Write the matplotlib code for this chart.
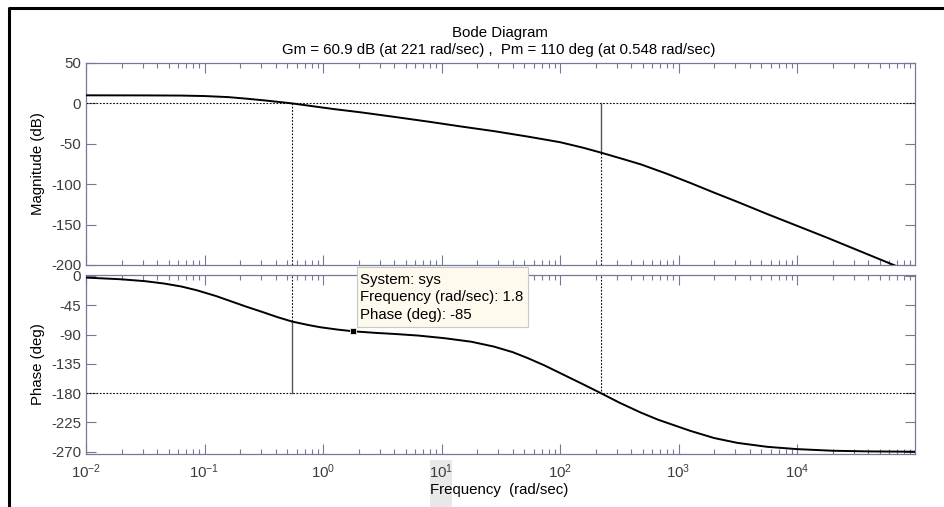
import numpy as np
import matplotlib
matplotlib.use("Agg")
import matplotlib.pyplot as plt
from matplotlib.patches import Rectangle
from matplotlib.lines import Line2D
from matplotlib.ticker import LogLocator, NullFormatter, FixedLocator

plt.rcParams['font.family'] = ['Liberation Sans', 'DejaVu Sans']
plt.rcParams['axes.unicode_minus'] = False
plt.rcParams['mathtext.default'] = 'regular'

# values
mag_freq = [0.01, 0.0316, 0.0631, 0.1, 0.158, 0.228, 0.316, 0.437, 0.548, 0.794,
            1.23, 2.07, 3.96, 7.94, 14.5, 28.2, 53.1, 100, 158, 221,
            316, 482, 794, 1260, 2000, 3160, 5620, 10000, 17800, 31600, 66700]
mag_db = [10.0, 9.9, 9.7, 9.1, 7.8, 5.8, 3.8, 1.6, 0.0, -3.2,
          -7.0, -11.0, -16.6, -22.8, -28.5, -34.5, -41.0, -48.0, -55.0, -60.9,
          -67.5, -75.5, -87.0, -98.5, -110.5, -122.0, -137.0, -151.5, -166.0, -181.0, -200.5]

ph_freq = [0.01, 0.0195, 0.0316, 0.0451, 0.0631, 0.0863, 0.126, 0.165, 0.224, 0.316,
           0.417, 0.548, 0.759, 0.951, 1.32, 1.8, 2.82, 3.96, 6.31, 10.5,
           17.8, 27.7, 39.8, 53.1, 74.1, 101, 151, 221, 316, 482,
           676, 923, 1260, 2000, 3160, 5620, 10000, 20000, 39800, 100000]
ph_deg = [-2.5, -5.0, -8.0, -11.5, -16.0, -22.0, -31.0, -38.5, -47.0, -56.0,
          -63.5, -70.0, -75.5, -78.8, -82.3, -85.0, -87.5, -89.0, -91.5, -95.5,
          -101.0, -108.5, -117.0, -126.0, -137.5, -149.5, -165.0, -180.0, -194.5, -210.0,
          -221.0, -229.5, -238.0, -249.0, -256.5, -262.5, -266.0, -268.5, -269.5, -270.0]

gm_freq, gm_db = 221, -60.9
pm_freq, pm_deg = 0.548, -70.0
dt_freq, dt_deg = 1.8, -85

mag_ticks = [50, 0, -50, -100, -150, -200]
ph_ticks = [0, -45, -90, -135, -180, -225, -270]
dec_ticks = [1e-2, 1e-1, 1e0, 1e1, 1e2, 1e3, 1e4]
dec_labels = ['$10^{-2}$', '$10^{-1}$', '$10^{0}$', '$10^{1}$', '$10^{2}$', '$10^{3}$', '$10^{4}$']

W, H = 944, 507
axcol = '#77779a'
txtcol = '#3c3c3c'
fs = 10.8

fig = plt.figure(figsize=(W / 100, H / 100), dpi=100)

def fx(px):
    return px / W

def fy(py):
    return 1 - py / H

ax1 = fig.add_axes([fx(86), fy(265), fx(915.3) - fx(86), fy(63) - fy(265)])
ax2 = fig.add_axes([fx(86), fy(454), fx(915.3) - fx(86), fy(275) - fy(454)])

xlim = (1e-2, 1.0e5 * 0.995)
for ax in (ax1, ax2):
    ax.set_xscale('log')
    ax.set_xlim(*xlim)
    ax.xaxis.set_major_locator(FixedLocator(dec_ticks))
    ax.xaxis.set_minor_locator(LogLocator(base=10, subs=np.arange(2, 10), numticks=20))
    ax.xaxis.set_minor_formatter(NullFormatter())
    ax.tick_params(which='both', direction='in', top=True, right=True, color=axcol,
                   labelcolor=txtcol, labelsize=fs)
    ax.tick_params(which='major', length=7, width=0.8)
    ax.tick_params(which='minor', length=3.5, width=0.8)
    for s in ax.spines.values():
        s.set_color(axcol)
        s.set_linewidth(0.9)

dot = (0, (1.5, 1.5))

# magnitude
ax1.plot(mag_freq, mag_db, color='black', lw=1.4, zorder=3)
ax1.set_ylim(-200, 50)
ax1.set_yticks(mag_ticks)
ax1.set_xticklabels([])
ax1.axhline(0, color='black', lw=0.8, ls=dot)
ax1.plot([pm_freq, pm_freq], [0, -200], color='black', lw=0.8, ls=dot)
ax1.plot([gm_freq, gm_freq], [0, gm_db], color='#555555', lw=1.0)
ax1.plot([gm_freq, gm_freq], [gm_db, -200], color='black', lw=0.8, ls=dot)

# phase
ax2.plot(ph_freq, ph_deg, color='black', lw=1.4, zorder=3)
ax2.set_ylim(-273.5, 1.5)
ax2.set_yticks(ph_ticks)
ax2.set_xticklabels(dec_labels)
ax2.tick_params(axis='x', pad=6)
ax2.axhline(-180, color='black', lw=0.8, ls=dot)
ax2.plot([pm_freq, pm_freq], [0, pm_deg], color='black', lw=0.8, ls=dot)
ax2.plot([pm_freq, pm_freq], [pm_deg, -180], color='#555555', lw=1.0)
ax2.plot([gm_freq, gm_freq], [0, -180], color='black', lw=0.8, ls=dot)
ax2.plot([dt_freq], [dt_deg], marker='s', ms=5, color='black', mec='#f5f0e0', mew=0.6, zorder=5)

# titles and labels
fig.text(fx(500), fy(33), 'Bode Diagram', ha='center', va='center', fontsize=fs, color='black')
fig.text(fx(499), fy(50), 'Gm = 60.9 dB (at 221 rad/sec) ,  Pm = 110 deg (at 0.548 rad/sec)',
         ha='center', va='center', fontsize=fs, color='black')
fig.text(fx(38), fy(164), 'Magnitude (dB)', rotation=90, ha='center', va='center', fontsize=fs)
fig.text(fx(38), fy(364), 'Phase (deg)', rotation=90, ha='center', va='center', fontsize=fs)

# light highlight behind x label
fig.patches.append(Rectangle((fx(430), 0), fx(452) - fx(430), fy(460), transform=fig.transFigure,
                             facecolor='#e8e8e8', edgecolor='none', zorder=-1))
fig.text(fx(499), fy(490), 'Frequency  (rad/sec)', ha='center', va='center', fontsize=fs, zorder=2)

# data tip box
fig.patches.append(Rectangle((fx(356.7), fy(327.3)), fx(528.3) - fx(356.7), fy(267.3) - fy(327.3),
                             transform=fig.transFigure, facecolor='#fffaee', edgecolor='#c8c8c8',
                             lw=0.8, zorder=10))
tip = ['System: sys', 'Frequency (rad/sec): %g' % dt_freq, 'Phase (deg): %g' % dt_deg]
for i, t in enumerate(tip):
    fig.text(fx(360), fy(280 + 17.5 * i), t, ha='left', va='center', fontsize=fs, zorder=11)

# black frame on top and left
fig.lines.append(Line2D([fx(8.5), fx(8.5), 1], [0, fy(8.3), fy(8.3)], transform=fig.transFigure,
                        color='black', lw=2.2))

fig.savefig('out.png', dpi=100)
